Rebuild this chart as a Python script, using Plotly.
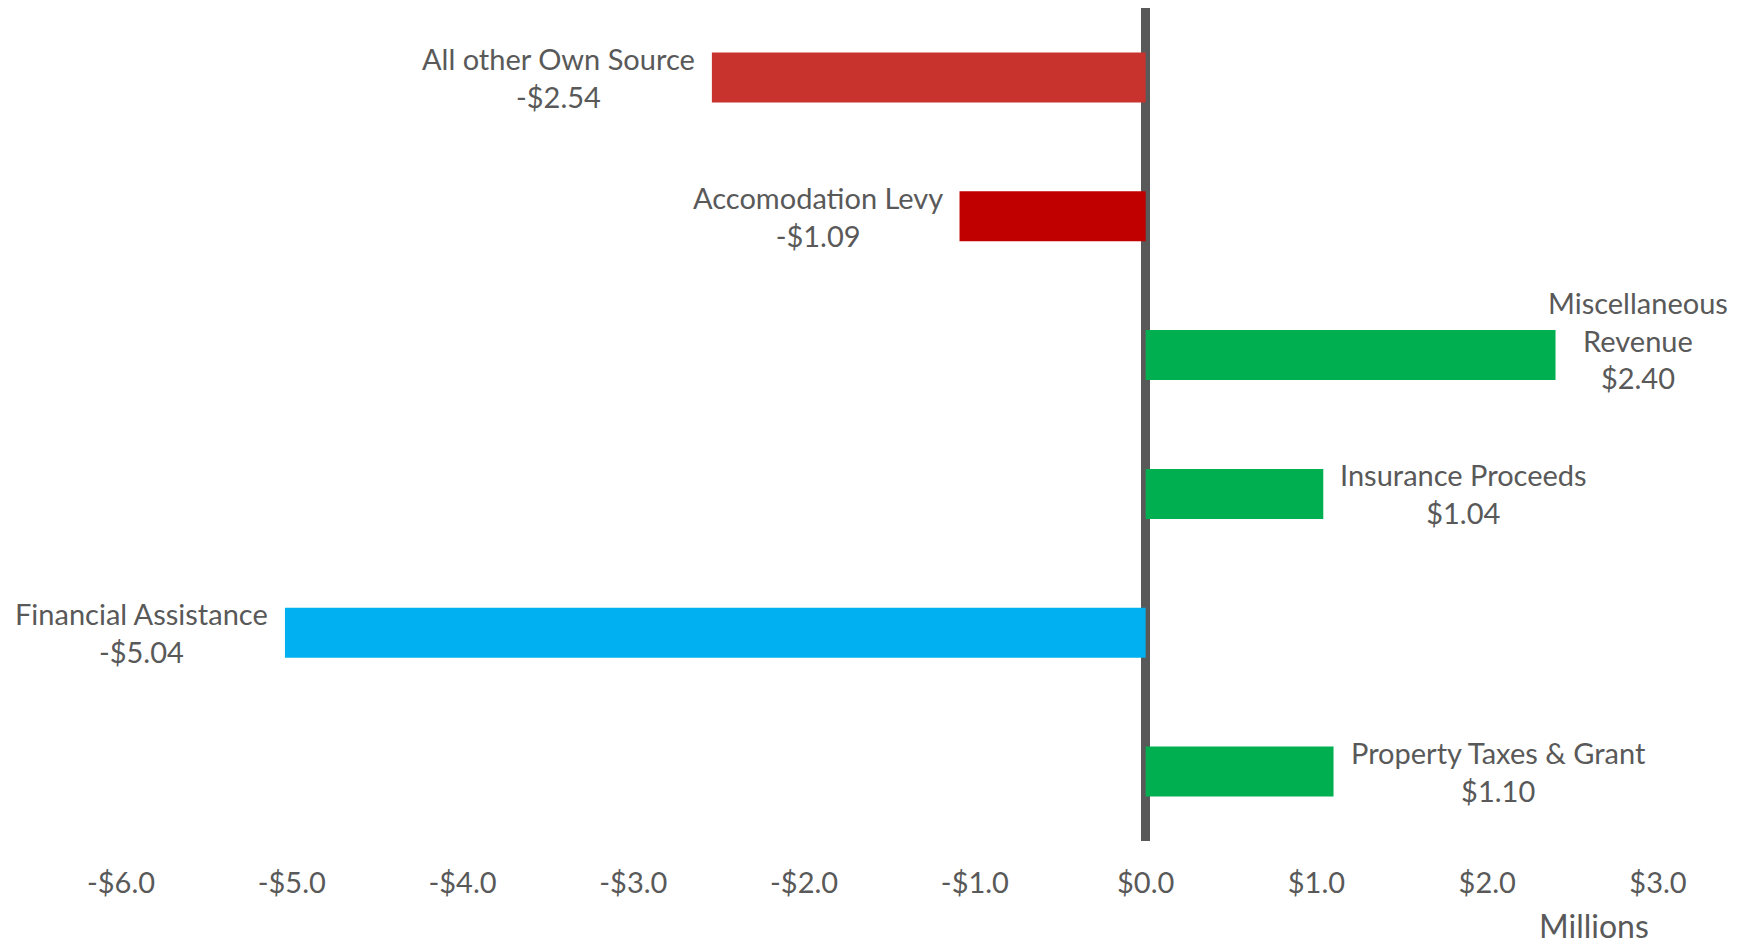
import plotly.graph_objects as go

# ---- data ----
categories = ["All other Own Source", "Accomodation Levy", "Miscellaneous<br>Revenue",
              "Insurance Proceeds", "Financial Assistance", "Property Taxes & Grant"]
values = [-2.54, -1.09, 2.40, 1.04, -5.04, 1.10]
bar_colors = ["#C9332D", "#C00000", "#00B050", "#00B050", "#00B0F0", "#00B050"]
tick_values = [-6, -5, -4, -3, -2, -1, 0, 1, 2, 3]
tick_labels = ["-$6.0", "-$5.0", "-$4.0", "-$3.0", "-$2.0", "-$1.0", "$0.0", "$1.0", "$2.0", "$3.0"]
unit_label = "Millions"

# ---- style ----
FONT = "Lato"
TEXT_COLOR = "#595959"
W, H = 1746, 946
ML, MR, MT, MB = 121, 88, 8, 105
LABEL_GAP = 15
# per-label nudges (Excel moved the label that would run off the chart)
label_nudge = {2: dict(xshift=-10, yshift=15, xanchor="left")}


def fmt(v):
    return ("-$" if v < 0 else "$") + f"{abs(v):.2f}"


fig = go.Figure(go.Bar(
    x=values, y=categories, orientation="h",
    marker=dict(color=bar_colors, line=dict(width=0)),
    width=0.36, hoverinfo="skip",
))

annotations = []
for i, (c, v) in enumerate(zip(categories, values)):
    a = dict(x=v, y=c, xref="x", yref="y", text=c + "<br>" + fmt(v),
             showarrow=False, align="center", yanchor="middle",
             font=dict(family=FONT, size=29, color=TEXT_COLOR))
    if v < 0:
        a.update(xanchor="right", xshift=-LABEL_GAP)
    else:
        a.update(xanchor="left", xshift=LABEL_GAP)
    if i in label_nudge:
        a.update(label_nudge[i])
    annotations.append(a)

annotations.append(dict(x=(1594 - ML) / (W - ML - MR), y=-(926 - (H - MB)) / (H - MT - MB),
                        xref="paper", yref="paper", text=unit_label, showarrow=False,
                        xanchor="center", yanchor="middle", borderpad=0,
                        font=dict(family=FONT, size=32, color=TEXT_COLOR)))

fig.update_layout(
    width=W, height=H,
    margin=dict(l=ML, r=MR, t=MT, b=MB, pad=0),
    paper_bgcolor="white", plot_bgcolor="white",
    showlegend=False,
    annotations=annotations,
    xaxis=dict(range=[-6, 3], tickvals=tick_values, ticktext=tick_labels,
               showgrid=False, zeroline=True, zerolinecolor="#595959", zerolinewidth=8.5,
               layer="above traces", showline=False, ticks="", ticklabelstandoff=22,
               tickfont=dict(family=FONT, size=29, color=TEXT_COLOR), fixedrange=True),
    yaxis=dict(autorange="reversed", showticklabels=False, showgrid=False,
               zeroline=False, showline=False, ticks="", fixedrange=True),
)

fig.write_html("out.html", config={"displayModeBar": False},
               post_script="document.body.style.margin='0';document.body.style.overflow='hidden';")
